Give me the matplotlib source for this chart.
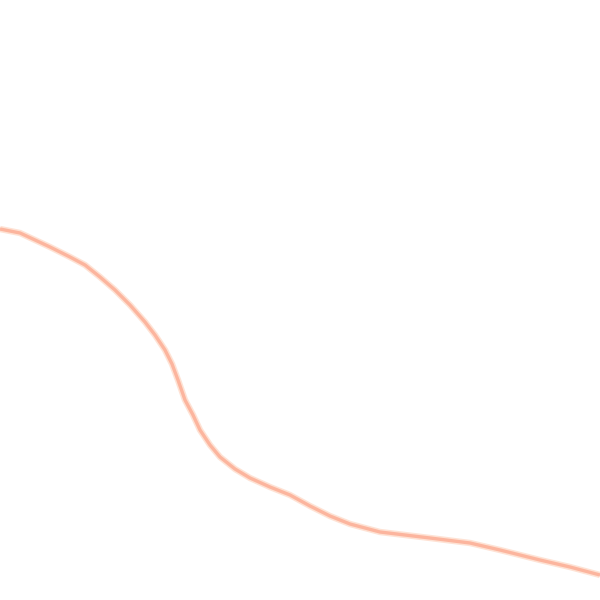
import matplotlib
matplotlib.use("Agg")
import matplotlib.pyplot as plt

# Series (x position, value; value axis runs downward)
x_vals = [0, 20, 35, 50, 70, 85, 100, 115, 130, 145, 155, 165, 172, 178, 185, 193,
          200, 210, 220, 235, 250, 270, 290, 310, 330, 350, 380, 430, 470, 500, 540, 570, 600]
y_vals = [229, 233, 240, 247, 257, 265, 277, 290, 305, 322, 335, 350, 364, 380, 400, 415,
          430, 445, 457, 469, 478, 487, 495, 506, 516, 524, 532, 538, 543, 550, 560, 567, 575]

fig = plt.figure(figsize=(6, 6), dpi=100)
ax = fig.add_axes([0, 0, 1, 1])
ax.plot(x_vals, y_vals, color="#fee2d4", lw=4.6, solid_capstyle="butt", solid_joinstyle="round")
ax.plot(x_vals, y_vals, color="#fcb59e", lw=2.4, solid_capstyle="butt", solid_joinstyle="round")
ax.set_xlim(0, 600)
ax.set_ylim(600, 0)
ax.axis("off")
fig.savefig("out.png", dpi=100, facecolor="white")
